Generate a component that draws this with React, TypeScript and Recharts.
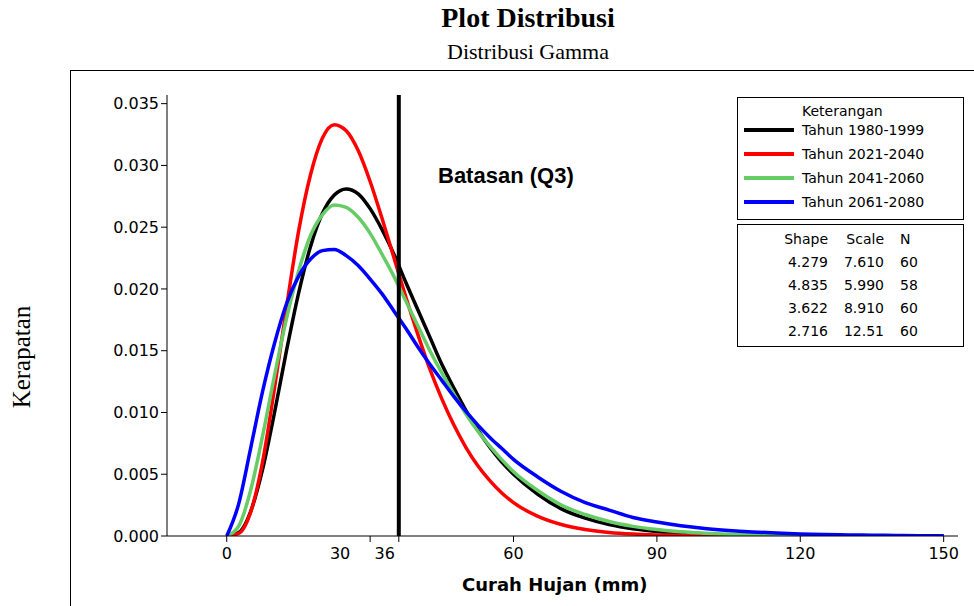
import React from 'react';
import { LineChart, Line, XAxis, YAxis, ReferenceLine } from 'recharts';

const curahHujan = [0, 2.5, 5, 7.5, 10, 12.5, 15, 17.5, 20, 22.5, 25, 27.5, 30, 32.5, 35, 37.5, 40, 42.5, 45, 47.5, 50, 52.5, 55, 57.5, 60, 65, 70, 75, 80, 85, 90, 95, 100, 105, 110, 115, 120, 125, 130, 135, 140, 145, 150];
const tahun1980 = [0, 0.00028, 0.00198, 0.0054, 0.0100, 0.0150, 0.0196, 0.0234, 0.0261, 0.0276, 0.0281, 0.0277, 0.0265, 0.0248, 0.0228, 0.0205, 0.0183, 0.0161, 0.0139, 0.0120, 0.0102, 0.0086, 0.0072, 0.0060, 0.0050, 0.0034, 0.0022, 0.00144, 0.00092, 0.00058, 0.00037, 0.00023, 0.00014, 0.00009, 0.00005, 0.00003, 0.00002, 0.00001, 0, 0, 0, 0, 0];
const tahun2021 = [0, 0.00021, 0.00193, 0.0060, 0.0120, 0.0185, 0.0246, 0.0292, 0.0322, 0.0333, 0.0328, 0.0312, 0.0287, 0.0257, 0.0225, 0.0193, 0.0163, 0.0135, 0.0111, 0.0090, 0.0072, 0.0057, 0.0045, 0.0035, 0.0027, 0.00161, 0.00093, 0.00053, 0.00029, 0.00016, 0.00009, 0.00005, 0.00002, 0.00001, 0, 0, 0, 0, 0, 0, 0, 0, 0];
const tahun2041 = [0, 0.0008, 0.0037, 0.0081, 0.0130, 0.0176, 0.0214, 0.0243, 0.0260, 0.0268, 0.0266, 0.0258, 0.0245, 0.0228, 0.0210, 0.0190, 0.0170, 0.0150, 0.0132, 0.0115, 0.0099, 0.0085, 0.0073, 0.0062, 0.0052, 0.0037, 0.0025, 0.00174, 0.00117, 0.00078, 0.00052, 0.00034, 0.00022, 0.00014, 0.00009, 0.00006, 0.00004, 0.00002, 0.00001, 0, 0, 0, 0];
const tahun2061 = [0, 0.0026, 0.0071, 0.0117, 0.0156, 0.0188, 0.0210, 0.0224, 0.0231, 0.0232, 0.0227, 0.0219, 0.0208, 0.0196, 0.0182, 0.0168, 0.0153, 0.0139, 0.0126, 0.0113, 0.0101, 0.0090, 0.0080, 0.0071, 0.0062, 0.0048, 0.0036, 0.0027, 0.0021, 0.0015, 0.00113, 0.00083, 0.00061, 0.00045, 0.00033, 0.00024, 0.00017, 0.00012, 0.00009, 0.00006, 0.00005, 0.00003, 0.00002];

const xTicks = [0, 30, 36, 60, 90, 120, 150];
const yTicks = [0, 0.005, 0.01, 0.015, 0.02, 0.025, 0.03, 0.035];

const seriesInfo = [
  { key: 'a', label: 'Tahun 1980-1999', color: '#000000' },
  { key: 'b', label: 'Tahun 2021-2040', color: '#ff0000' },
  { key: 'c', label: 'Tahun 2041-2060', color: '#66cc66' },
  { key: 'd', label: 'Tahun 2061-2080', color: '#0000ff' },
];
const paramRows = [
  ['4.279', '7.610', '60'],
  ['4.835', '5.990', '58'],
  ['3.622', '8.910', '60'],
  ['2.716', '12.51', '60'],
];

const data = curahHujan.map((x, i) => ({
  x, a: tahun1980[i], b: tahun2021[i], c: tahun2041[i], d: tahun2061[i],
}));

const tickFont = { fontFamily: 'DejaVu Sans', fontSize: 16, fill: '#000' };

const XTick = ({ x, y, payload }: any) => {
  const shift = payload.value === 30 ? -30 : payload.value === 36 ? -14 : 0;
  return (
    <text x={x + shift} y={y + 15} textAnchor="middle" {...tickFont}>{payload.value}</text>
  );
};

export default function App() {
  return (
    <div style={{ position: 'absolute', left: 0, top: 0, width: 974, height: 606, overflow: 'hidden', background: '#fff' }}>
      <div style={{ position: 'absolute', top: 2, left: 0, width: 1056, textAlign: 'center', fontFamily: 'Liberation Serif', fontWeight: 'bold', fontSize: 28 }}>Plot Distribusi</div>
      <div style={{ position: 'absolute', top: 39, left: 0, width: 1056, textAlign: 'center', fontFamily: 'Liberation Serif', fontSize: 22 }}>Distribusi Gamma</div>
      <div style={{ position: 'absolute', left: 70, top: 70, width: 1000, height: 600, borderLeft: '1.5px solid #000', borderTop: '1.5px solid #000' }} />
      <div style={{ position: 'absolute', left: -58, top: 343, width: 160, textAlign: 'center', transform: 'rotate(-90deg)', fontFamily: 'Liberation Serif', fontSize: 25 }}>Kerapatan</div>
      <div style={{ position: 'absolute', left: 0, top: 0 }}>
        <LineChart width={974} height={606} data={data} margin={{ top: 95, right: 16, bottom: 40, left: 97 }}>
          <XAxis dataKey="x" type="number" domain={[-12.5, 153]} ticks={xTicks} tick={<XTick />}
            stroke="#000" height={30} allowDataOverflow interval={0} />
          <YAxis type="number" domain={[0, 0.0357]} ticks={yTicks} tickFormatter={(v: number) => v.toFixed(3)}
            tick={tickFont} stroke="#000" width={70} allowDataOverflow interval={0} />
          {seriesInfo.map(s => (
            <Line key={s.key} dataKey={s.key} type="monotone" stroke={s.color} strokeWidth={3.5} dot={false} isAnimationActive={false} />
          ))}
          <ReferenceLine x={36} stroke="#000" strokeWidth={4} />
        </LineChart>
      </div>
      <div style={{ position: 'absolute', left: 438, top: 163, fontFamily: 'Liberation Sans', fontWeight: 'bold', fontSize: 22 }}>Batasan (Q3)</div>
      <div style={{ position: 'absolute', left: 462, top: 574, fontFamily: 'DejaVu Sans', fontWeight: 'bold', fontSize: 18 }}>Curah Hujan (mm)</div>
      <div style={{ position: 'absolute', left: 737, top: 97, width: 225, height: 121, border: '1px solid #000', background: '#fff', fontFamily: 'DejaVu Sans', fontSize: 14 }}>
        <div style={{ position: 'absolute', left: 64, top: 5 }}>Keterangan</div>
        {seriesInfo.map((s, i) => (
          <div key={s.key} style={{ position: 'absolute', left: 6, top: 24 + i * 24, display: 'flex', alignItems: 'center' }}>
            <div style={{ width: 50, height: 4, background: s.color, marginRight: 8 }} />
            <span style={{ whiteSpace: 'nowrap' }}>{s.label}</span>
          </div>
        ))}
      </div>
      <div style={{ position: 'absolute', left: 737, top: 224, width: 225, height: 121, border: '1px solid #000', background: '#fff', fontFamily: 'DejaVu Sans', fontSize: 14 }}>
        {[['Shape', 'Scale', 'N'], ...paramRows].map((r, i) => (
          <div key={i} style={{ position: 'absolute', top: 6 + i * 23, left: 0 }}>
            <span style={{ position: 'absolute', left: 34, width: 56, textAlign: 'right' }}>{r[0]}</span>
            <span style={{ position: 'absolute', left: 96, width: 50, textAlign: 'right' }}>{r[1]}</span>
            <span style={{ position: 'absolute', left: 162, width: 30 }}>{r[2]}</span>
          </div>
        ))}
      </div>
    </div>
  );
}
